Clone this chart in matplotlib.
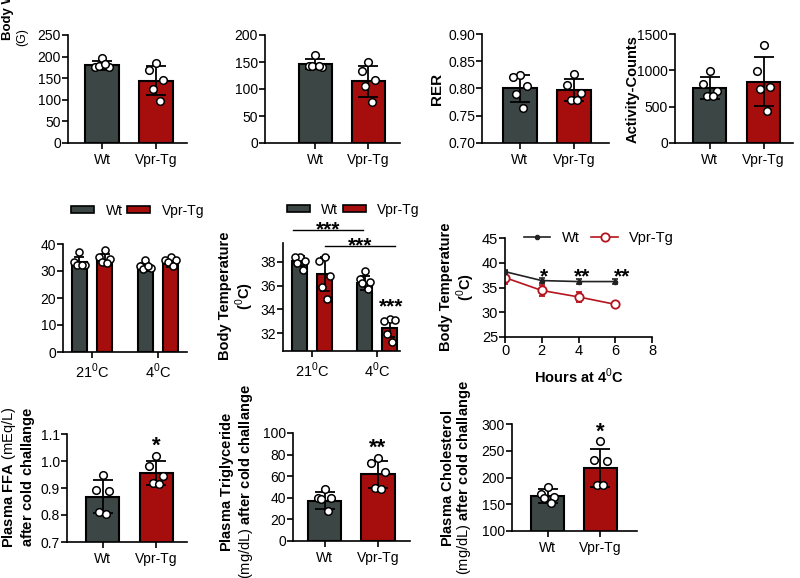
import matplotlib
matplotlib.use('Agg')
import matplotlib.pyplot as plt
import numpy as np
from matplotlib.patches import Patch
from matplotlib.lines import Line2D

plt.rcParams['font.family'] = ['Liberation Sans', 'DejaVu Sans']
plt.rcParams['mathtext.fontset'] = 'custom'
plt.rcParams['mathtext.rm'] = 'Liberation Sans'
plt.rcParams['mathtext.bf'] = 'Liberation Sans:bold'

# --- data ---
groups = ['Wt', 'Vpr-Tg']

weight_mean = [180, 144]
weight_sd = [10, 34]
weight_pts = [[196, 177, 176, 178, 183], [186, 169, 146, 126, 97]]

b_mean = [146, 114]
b_sd = [9, 29]
b_pts = [[163, 142, 141, 143, 142], [150, 134, 117, 105, 76]]

rer_mean = [0.800, 0.797]
rer_sd = [0.024, 0.020]
rer_pts = [[0.825, 0.821, 0.805, 0.790, 0.765], [0.827, 0.806, 0.792, 0.779, 0.779]]

act_mean = [760, 845]
act_sd = [150, 335]
act_pts = [[992, 816, 722, 652, 642], [1345, 988, 768, 745, 442]]

temps = ['21$^{0}$C', '4$^{0}$C']

e_wt_mean = [33.3, 31.6]
e_vpr_mean = [34.2, 32.9]
e_wt_sd = [2.0, 1.5]
e_vpr_sd = [2.0, 1.5]
e_wt_pts = [[36.9, 33.2, 32.3, 32.3, 32.3], [33.9, 31.7, 31.1, 30.8, 31.7]]
e_vpr_pts = [[37.6, 35.2, 34.4, 33.2, 32.9], [35.2, 34.2, 33.9, 33.2, 31.7]]

f_wt_mean = [38.1, 36.2]
f_vpr_mean = [37.0, 32.4]
f_wt_sd = [0.4, 0.6]
f_vpr_sd = [1.45, 0.7]
f_wt_pts = [[38.4, 38.4, 38.1, 37.9, 37.3], [37.2, 36.6, 36.3, 36.2, 35.7]]
f_vpr_pts = [[38.4, 38.1, 36.8, 35.9, 34.9], [33.2, 33.0, 33.1, 31.9, 31.3]]

hours = [0, 2, 4, 6]
wt_line = [38.2, 36.4, 36.2, 36.2]
wt_line_err = [0.3, 0.5, 0.5, 0.5]
vpr_line = [37.0, 34.4, 33.1, 31.6]
vpr_line_err = [1.3, 1.2, 1.0, 0.3]

ffa_mean = [0.868, 0.955]
ffa_sd = [0.06, 0.045]
ffa_pts = [[0.947, 0.894, 0.888, 0.810, 0.805], [1.020, 0.980, 0.943, 0.919, 0.916]]

tg_mean = [37.5, 62]
tg_sd = [7.5, 12.5]
tg_pts = [[47.8, 39.4, 39.4, 38.5, 27.9], [76.7, 72.0, 63.7, 49.0, 48.0]]

chol_mean = [165, 218]
chol_sd = [13, 36]
chol_pts = [[183, 170, 164, 161, 153], [269, 232, 230, 186, 186]]

WT = '#3c4644'
VPR = '#a50e0c'
LRED = '#b5141e'
W, H = 800, 578
jitter = np.array([0.0, -0.2, 0.2, -0.1, 0.1])
TICK = 10
LAB = 11
STAR = 15

fig = plt.figure(figsize=(8, 5.78), dpi=100)


def px(l, t, r, b):
    return [l / W, 1 - b / H, (r - l) / W, (b - t) / H]


def style(ax):
    for s in ['top', 'right']:
        ax.spines[s].set_visible(False)
    for s in ['left', 'bottom']:
        ax.spines[s].set_linewidth(1.2)
    ax.tick_params(direction='out', length=4, width=1.2, labelsize=TICK, pad=1)


def ylab(x, y, s, size=LAB, weight='bold'):
    fig.text(x / W, 1 - y / H, s, rotation=90, ha='center', va='center', fontsize=size,
             fontweight=weight, multialignment='center', linespacing=1.05)


def two_bar(box, xlim, ylim, yticks, means, sds, pts, yfmt=None):
    ax = fig.add_axes(px(*box))
    x = np.arange(2)
    ax.bar(x, means, width=0.62, color=[WT, VPR], edgecolor='black', linewidth=1.5, zorder=2)
    ax.errorbar(x, means, yerr=sds, fmt='none', ecolor='black', elinewidth=1.3,
                capsize=7, capthick=1.3, zorder=3)
    for i in range(2):
        ax.scatter(x[i] + jitter * 0.62, pts[i], s=30, facecolor='white', edgecolor='black',
                   linewidth=1.1, zorder=4, clip_on=False)
    ax.set_xlim(*xlim)
    ax.set_ylim(*ylim)
    ax.set_yticks(yticks)
    if yfmt:
        ax.set_yticklabels([yfmt % v for v in yticks])
    ax.set_xticks(x)
    ax.set_xticklabels(groups)
    style(ax)
    ax.tick_params(axis='x', pad=3)
    return ax


def group_bar(box, xlim, ylim, yticks, wt_m, vpr_m, wt_s, vpr_s, wt_p, vpr_p):
    ax = fig.add_axes(px(*box))
    x = np.arange(2)
    off, bw = 0.19, 0.23
    ax.bar(x - off, wt_m, width=bw, color=WT, edgecolor='black', linewidth=1.5, zorder=2)
    ax.bar(x + off, vpr_m, width=bw, color=VPR, edgecolor='black', linewidth=1.5, zorder=2)
    ax.errorbar(x - off, wt_m, yerr=wt_s, fmt='none', ecolor='black', elinewidth=1.3,
                capsize=3.5, capthick=1.3, zorder=3)
    ax.errorbar(x + off, vpr_m, yerr=vpr_s, fmt='none', ecolor='black', elinewidth=1.3,
                capsize=3.5, capthick=1.3, zorder=3)
    for i in range(2):
        ax.scatter(x[i] - off + jitter * 0.4, wt_p[i], s=26, facecolor='white',
                   edgecolor='black', linewidth=1.1, zorder=4, clip_on=False)
        ax.scatter(x[i] + off + jitter * 0.4, vpr_p[i], s=26, facecolor='white',
                   edgecolor='black', linewidth=1.1, zorder=4, clip_on=False)
    ax.set_xlim(*xlim)
    ax.set_ylim(*ylim)
    ax.set_yticks(yticks)
    ax.set_xticks(x)
    ax.set_xticklabels(temps)
    style(ax)
    ax.tick_params(axis='x', labelsize=10.5, pad=3)
    handles = [Patch(facecolor=WT, edgecolor='black', linewidth=1.2),
               Patch(facecolor=VPR, edgecolor='black', linewidth=1.2)]
    ax.legend(handles, groups, ncol=2, frameon=False, loc='center', fontsize=10,
              bbox_to_anchor=(0.6, 1.31), handlelength=1.7, handleheight=0.45,
              columnspacing=0.3, handletextpad=0.8)
    return ax


# row 1
ax = two_bar((68, 35, 187, 143), (-0.63, 1.57), (0, 250), [0, 50, 100, 150, 200, 250],
             weight_mean, weight_sd, weight_pts)
fig.text(8 / W, 1 - 40 / H, 'Body Weight', rotation=90, ha='center', va='bottom',
         fontsize=9.5, fontweight='bold')
fig.text(22 / W, 1 - 37 / H, '(G)', rotation=90, ha='center', va='center', fontsize=9)

two_bar((265, 35, 400, 143), (-0.95, 1.6), (0, 200), [0, 50, 100, 150, 200],
        b_mean, b_sd, b_pts)

two_bar((482, 34, 609, 143), (-0.7, 1.65), (0.70, 0.90), [0.70, 0.75, 0.80, 0.85, 0.90],
        rer_mean, rer_sd, rer_pts, yfmt='%.2f')
ylab(437, 89, 'RER')

two_bar((675, 34, 793, 143), (-0.65, 1.55), (0, 1500), [0, 500, 1000, 1500],
        act_mean, act_sd, act_pts)
ylab(633, 89, 'Activity-Counts', 10.5)

# row 2
group_bar((63, 244, 187, 352), (-0.44, 1.44), (0, 40), [0, 10, 20, 30, 40],
          e_wt_mean, e_vpr_mean, e_wt_sd, e_vpr_sd, e_wt_pts, e_vpr_pts)

axf = group_bar((283, 243, 400, 351), (-0.45, 1.35), (30.5, 39.6), [32, 34, 36, 38],
                f_wt_mean, f_vpr_mean, f_wt_sd, f_vpr_sd, f_wt_pts, f_vpr_pts)
axf.plot([-0.29, 0.78], [40.7, 40.7], color='black', lw=1.0, clip_on=False)
axf.text(0.245, 40.28, '***', ha='center', va='baseline', fontsize=STAR, fontweight='bold')
axf.plot([0.2, 1.28], [39.35, 39.35], color='black', lw=1.0, clip_on=False)
axf.text(0.74, 38.88, '***', ha='center', va='baseline', fontsize=STAR, fontweight='bold')
axf.text(1.21, 33.72, '***', ha='center', va='baseline', fontsize=STAR, fontweight='bold')
ylab(237, 296, 'Body Temperature\n($^{0}$C)', 10.5)

axg = fig.add_axes(px(505, 238, 652, 337))
axg.errorbar(hours, wt_line, yerr=wt_line_err, color='#222222', lw=1.2, marker='o',
             markersize=3, capsize=2.5, capthick=1.2, zorder=3)
axg.errorbar(hours, vpr_line, yerr=vpr_line_err, color=LRED, lw=1.2, marker='o',
             markersize=6, markerfacecolor='white', markeredgecolor=LRED,
             markeredgewidth=1.3, capsize=2.5, capthick=1.2, zorder=2)
axg.set_xlim(0, 8)
axg.set_ylim(25, 45)
axg.set_xticks([0, 2, 4, 6, 8])
axg.set_yticks([25, 30, 35, 40, 45])
style(axg)
axg.tick_params(labelsize=10.5)
for xs, s in [(2.12, '*'), (4.2, '**'), (6.37, '**')]:
    axg.text(xs, 36.1, s, ha='center', va='baseline', fontsize=STAR, fontweight='bold')
hl = [Line2D([], [], color='#222222', lw=1.2, marker='o', markersize=3),
      Line2D([], [], color=LRED, lw=1.2, marker='o', markersize=6,
             markerfacecolor='white', markeredgecolor=LRED, markeredgewidth=1.3)]
axg.legend(hl, groups, ncol=2, frameon=False, loc='center', fontsize=10.5,
           bbox_to_anchor=(0.64, 1.0), handlelength=1.8, columnspacing=0.8,
           handletextpad=0.8)
axg.set_xlabel('Hours at 4$^{0}$C', fontsize=10.5, fontweight='bold', labelpad=6)
ylab(458, 287, 'Body Temperature\n($^{0}$C)', 10.5)

# row 3
axh = two_bar((67, 434, 187, 542), (-0.67, 1.58), (0.7, 1.1), [0.7, 0.8, 0.9, 1.0, 1.1],
              ffa_mean, ffa_sd, ffa_pts, yfmt='%.1f')
axh.text(1, 1.033, '*', ha='center', va='baseline', fontsize=STAR + 1, fontweight='bold')
ylab(18.5, 477, '$\\mathbf{Plasma\\ FFA}$ (mEq/L)\n$\\mathbf{after\\ cold\\ challange}$',
     10.5, 'normal')

axi = two_bar((293, 433, 410, 541), (-0.59, 1.6), (0, 100), [0, 20, 40, 60, 80, 100],
              tg_mean, tg_sd, tg_pts)
axi.text(1, 80.5, '**', ha='center', va='baseline', fontsize=STAR + 1, fontweight='bold')
ylab(236.5, 482,
     '$\\mathbf{Plasma\\ Triglyceride}$\n(mg/dL) $\\mathbf{after\\ cold\\ challange}$',
     10.5, 'normal')

axj = two_bar((512, 424, 637, 531), (-0.68, 1.7), (100, 300), [100, 150, 200, 250, 300],
              chol_mean, chol_sd, chol_pts)
axj.text(1, 273.8, '*', ha='center', va='baseline', fontsize=STAR + 1, fontweight='bold')
ylab(456.5, 478,
     '$\\mathbf{Plasma\\ Cholesterol}$\n(mg/dL) $\\mathbf{after\\ cold\\ challange}$',
     10.5, 'normal')

fig.savefig('out.png', dpi=100)
